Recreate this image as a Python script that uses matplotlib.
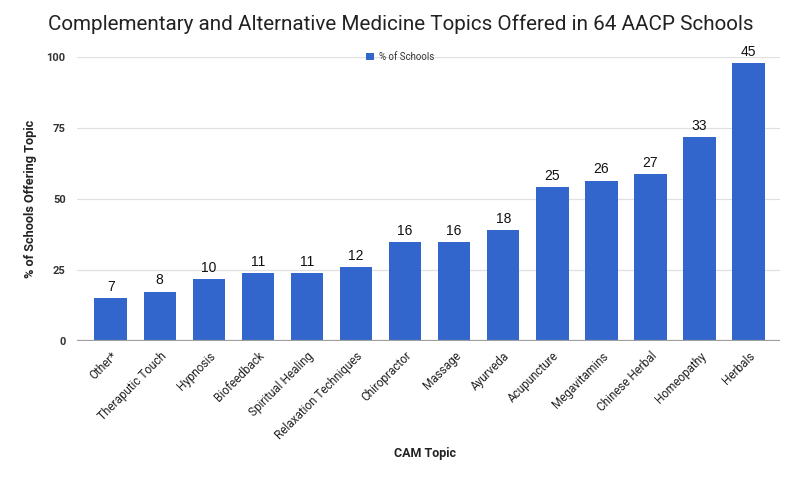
import matplotlib
matplotlib.use("Agg")
import matplotlib.pyplot as plt
from matplotlib.patches import Patch

categories = ["Other*", "Theraputic Touch", "Hypnosis", "Biofeedback", "Spiritual Healing",
              "Relaxation Techniques", "Chiropractor", "Massage", "Ayurveda", "Acupuncture",
              "Megavitamins", "Chinese Herbal", "Homeopathy", "Herbals"]
pct_schools = [15.2, 17.4, 21.7, 23.9, 23.9, 26.1, 34.8, 34.8, 39.1, 54.3, 56.5, 58.7, 71.7, 97.8]
counts = [7, 8, 10, 11, 11, 12, 16, 16, 18, 25, 26, 27, 33, 45]
yticks = [0, 25, 50, 75, 100]

plt.rcParams['font.family'] = ['Roboto', 'DejaVu Sans']

fig = plt.figure(figsize=(8.0, 4.78), dpi=100)
ax = fig.add_axes([0.096, 0.2866, 0.879, 0.5942])

x = list(range(len(categories)))
bars = ax.bar(x, pct_schools, width=0.66, color="#3366CC", zorder=3)
for xi, h, c in zip(x, pct_schools, counts):
    ax.text(xi, h + 1.5, str(c), ha="center", va="bottom", fontsize=10,
            family=["Liberation Sans", "DejaVu Sans"], color="#111111", zorder=4)

ax.set_xlim(-0.69, 13.64)
ax.set_ylim(0, 100)
ax.set_yticks(yticks)
ax.set_yticklabels([str(t) for t in yticks], fontsize=8, fontweight="bold", color="#333333")
ax.yaxis.grid(True, color="#e0e0e0", linewidth=0.9, zorder=0)
ax.axhline(0, color="#9e9e9e", linewidth=1.6, zorder=4)
for s in ax.spines.values():
    s.set_visible(False)
ax.tick_params(axis="both", length=0, pad=8)
ax.set_xticks(x)
ax.set_xticklabels(categories, rotation=45, ha="right", rotation_mode="anchor",
                   fontsize=8.5, color="#222222")
ax.tick_params(axis="x", pad=6)

ax.set_ylabel("% of Schools Offering Topic", fontsize=9.2, fontweight="bold", color="#222222")
ax.yaxis.set_label_coords(-0.057, 0.5)
fig.text(0.531, 1 - 453 / 478, "CAM Topic", ha="center", va="center", fontsize=9,
         fontweight="bold", color="#222222")

fig.text(0.501, 1 - 24 / 478, "Complementary and Alternative Medicine Topics Offered in 64 AACP Schools",
         ha="center", va="center", fontsize=14.9, color="#222222")

handle = Patch(facecolor="#3366CC", edgecolor="none")
leg = fig.legend([handle], ["% of Schools"], loc="center", bbox_to_anchor=(0.5, 1 - 57 / 478),
                 frameon=False, fontsize=7, handlelength=0.8, handleheight=0.8, handletextpad=0.5)
for t in leg.get_texts():
    t.set_color("#333333")

fig.savefig("out.png", dpi=100)
